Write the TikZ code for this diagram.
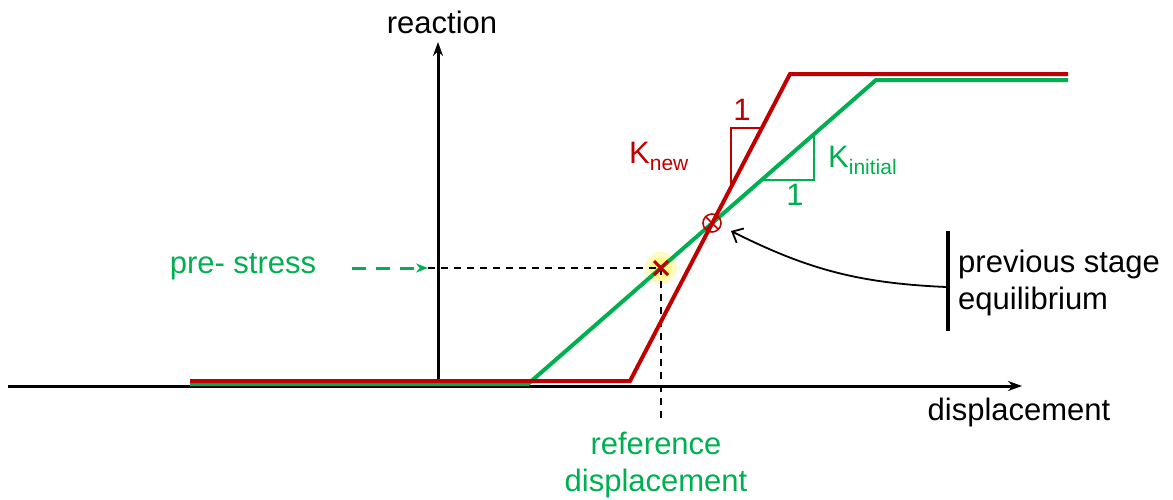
\documentclass[tikz,border=0pt]{standalone}
\usepackage{fontspec}
\setmainfont{Liberation Sans}
\usetikzlibrary{arrows.meta,calc}
\definecolor{cred}{RGB}{192,0,0}
\definecolor{cgreen}{RGB}{0,176,80}
\begin{document}
\begin{tikzpicture}[x=1pt,y=-1pt,
  lbl/.style={font=\fontsize{31}{37}\selectfont, inner sep=0pt},
  axis/.style={line width=3pt, black, -{Stealth[length=14pt,width=10pt]}},
  curve/.style={line width=4pt, line join=miter},
  tri/.style={line width=1.6pt},
  guide/.style={line width=1.5pt, black, dash pattern=on 7pt off 6pt}]
\useasboundingbox (0,0) rectangle (1173,499);
% coordinates
\coordinate (xs) at (8,386); \coordinate (xe) at (1022,386);
\coordinate (ys) at (438,383); \coordinate (ye) at (438,42);
\coordinate (r0) at (190,381); \coordinate (r1) at (630,381);
\coordinate (r2) at (790,74); \coordinate (r3) at (1068,74);
\coordinate (g0) at (190,384); \coordinate (g1) at (528,384);
\coordinate (g2) at (876,80); \coordinate (g3) at (1068,80);
\coordinate (eq) at (712,223);
\coordinate (ps) at (661,268);
\coordinate (psl) at (428,268);
\coordinate (psb) at (661,422);
% glow
\fill[yellow!70, opacity=0.35] (ps) circle (16);
\fill[yellow!70, opacity=0.45] (ps) circle (11);
% axes
\draw[axis] (xs) -- (xe);
\draw[axis] (ys) -- (ye);
% guides
\draw[guide] (psl) -- (ps);
\draw[guide] (ps) -- (psb);
% curves
\draw[curve, cgreen] (g0) -- (g1) -- (g2) -- (g3);
\draw[curve, cred] (r0) -- (r1) -- (r2) -- (r3);
% slope triangles
\draw[tri, cred] (731,187) -- (731,128) -- (762,128);
\draw[tri, cgreen] (762,180) -- (814,180) -- (814,134);
\node[lbl, text=cred] (one1) at (742,110) {1};
\node[lbl, text=cgreen] (one2) at (795,195) {1};
\node[lbl, text=cred, anchor=west] (knew) at (629,156) {K\raisebox{-7pt}{\fontsize{21}{21}\selectfont new}};
\node[lbl, text=cgreen, anchor=west] (kini) at (828,160) {K\raisebox{-7pt}{\fontsize{21}{21}\selectfont initial}};
% equilibrium marker
\draw[cred, line width=1.6pt] (eq) circle (9);
\draw[cred, line width=1.6pt] ($(eq)+(-6.4,-6.4)$) -- ($(eq)+(6.4,6.4)$);
\draw[cred, line width=1.6pt] ($(eq)+(-6.4,6.4)$) -- ($(eq)+(6.4,-6.4)$);
% pre-stress mark
\draw[cred, line width=3pt] ($(ps)+(-7,-7)$) -- ($(ps)+(7,7)$);
\draw[cred, line width=3pt] ($(ps)+(-7,7)$) -- ($(ps)+(7,-7)$);
% labels
\node[lbl] (reaction) at (442,22) {reaction};
\node[lbl] (disp) at (1019,412) {displacement};
\node[lbl, text=cgreen, align=center] (ref) at (656,465) {reference\\displacement};
\node[lbl, text=cgreen] (pre) at (243,267) {pre- stress};
\coordinate (prea) at (352,268);
\draw[cgreen, line width=3pt, dash pattern=on 14pt off 10pt, -{Stealth[length=12pt,width=9pt]}] (prea) -- (psl);
% previous stage equilibrium
\coordinate (bt) at (948,231); \coordinate (bb) at (948,331);
\draw[line width=4pt] (bt) -- (bb);
\coordinate (bm) at (946,287);
\coordinate (tip) at (731,231);
\draw[line width=1.8pt, -{Straight Barb[length=9pt,width=16pt]}] (bm) to[bend left=12] (tip);
\node[lbl, anchor=west, align=left] (prev) at (958,283) {previous stage\\equilibrium};
\end{tikzpicture}
\end{document}
